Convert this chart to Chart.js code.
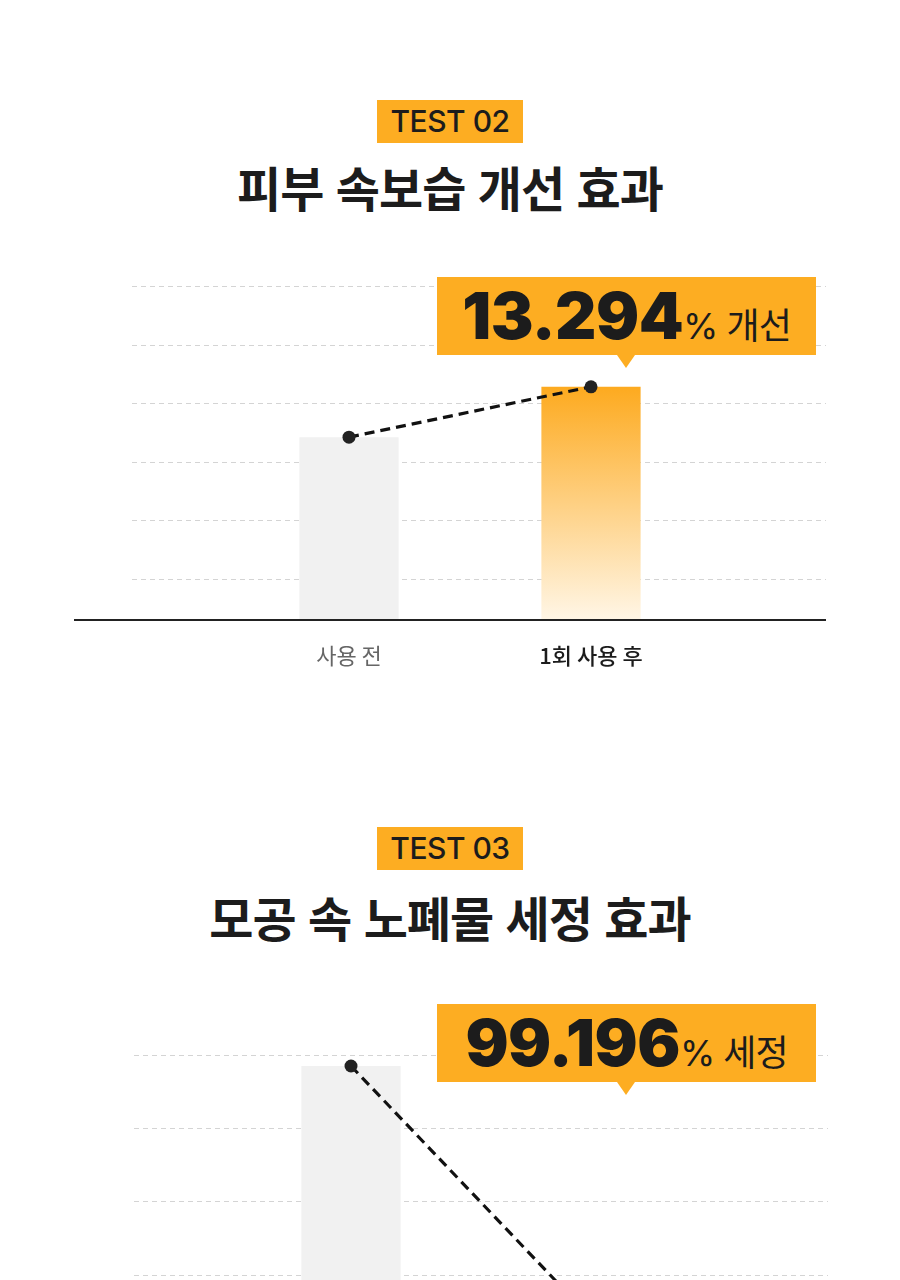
<!DOCTYPE html>
<html lang="ko">
<head>
<meta charset="UTF-8">
<title>TEST 02 / TEST 03</title>
<script src="https://cdn.jsdelivr.net/npm/chart.js@4.4.1/dist/chart.umd.min.js"></script>
<style>
  html, body { margin: 0; padding: 0; width: 900px; height: 1280px; overflow: hidden; background: #fff; }
  body { position: relative; font-family: "Noto Sans CJK KR", "Noto Sans", sans-serif; color: #1c1c1c; }
  .badge {
    position: absolute; left: 377px; width: 146px; height: 43px;
    background: #fdad22; text-align: center;
    font-family: Inter, "Liberation Sans", sans-serif; font-weight: 500; font-size: 30px; line-height: 43px;
    letter-spacing: -0.5px; color: #1c1c1c;
  }
  .title {
    position: absolute; left: 0; width: 900px; text-align: center;
    font-family: "Noto Sans CJK KR", sans-serif; font-weight: 700; font-size: 48px; line-height: 60px;
    letter-spacing: -1px; color: #1c1c1c;
  }
  .chart { position: absolute; left: 0; }
  .callout {
    position: absolute; left: 437px; width: 379px; height: 78px;
    background: #fdad22; text-align: center; white-space: nowrap;
    font-family: Inter, sans-serif; font-weight: 900; font-size: 64px; line-height: 78px;
    letter-spacing: -0.5px; color: #1c1c1c;
  }
  .callout:after {
    content: ""; position: absolute; left: 180px; top: 78px;
    border-left: 9px solid transparent; border-right: 9px solid transparent; border-top: 13px solid #fdad22;
  }
  .callout .unit {
    font-family: Inter, "Noto Sans CJK KR", sans-serif; font-weight: 400; font-size: 36px; line-height: 1;
    letter-spacing: -1px; margin-left: 0;
  }
</style>
</head>
<body>

<div class="badge" style="top:100px">TEST 02</div>
<div class="title" style="top:156px">피부 속보습 개선 효과</div>
<canvas id="chart1" class="chart" width="900" height="450" style="top:250px"></canvas>
<div class="callout" style="top:277px">13.294<span class="unit">% 개선</span></div>

<div class="badge" style="top:827px">TEST 03</div>
<div class="title" style="top:886px">모공 속 노폐물 세정 효과</div>
<canvas id="chart2" class="chart" width="900" height="383" style="top:1019px"></canvas>
<div class="callout" style="top:1004px">99.196<span class="unit">% 세정</span></div>

<script>
// categories
var labels = ['사용 전', '1회 사용 후'];

// TEST 02 - 피부 속보습 (relative units)
var moistureValues = [31.2, 39.8];
var moistureGrid = [7, 17, 27, 37, 47, 57];

// TEST 03 - 모공 속 노폐물 (before = 100, after = 0.804)
var poreValues = [100, 0.804];
var poreGrid = [18.5, 47.1, 75.7, 104.3];

var ORANGE = '#fdad22';

// dashed guide lines + solid baseline, wider than the plot itself
var refGrid = {
  id: 'refGrid',
  beforeDatasetsDraw: function (chart, args, opts) {
    var ctx = chart.ctx, area = chart.chartArea, y = chart.scales.y;
    ctx.save();
    ctx.strokeStyle = '#d4d4d4';
    ctx.lineWidth = 1;
    ctx.setLineDash([5, 4]);
    y.ticks.forEach(function (t) {
      var py = Math.round(y.getPixelForValue(t.value)) + 0.5;
      ctx.beginPath();
      ctx.moveTo(area.left - opts.gridLeft, py);
      ctx.lineTo(area.right + opts.right, py);
      ctx.stroke();
    });
    ctx.restore();
  },
  afterDatasetsDraw: function (chart, args, opts) {
    var ctx = chart.ctx, area = chart.chartArea, y = chart.scales.y;
    var by = y.getPixelForValue(0);
    ctx.save();
    ctx.strokeStyle = '#222';
    ctx.lineWidth = 2;
    ctx.beginPath();
    ctx.moveTo(area.left - opts.baseLeft, by);
    ctx.lineTo(area.right + opts.right, by);
    ctx.stroke();
    ctx.restore();
  }
};

function barFill(c) {
  if (c.dataIndex === 0) return '#f1f1f1';
  var chart = c.chart;
  if (!chart.chartArea || !chart.scales.y) return ORANGE;
  var y = chart.scales.y;
  var top = y.getPixelForValue(c.raw);
  var bottom = y.getPixelForValue(0);
  var g = chart.ctx.createLinearGradient(0, top, 0, bottom);
  g.addColorStop(0, '#fdaa1f');
  g.addColorStop(1, '#fff6e6');
  return g;
}

function makeChart(id, values, grid, yMax, padLeft) {
  return new Chart(document.getElementById(id), {
    data: {
      labels: labels,
      datasets: [
        {
          type: 'line',
          data: values,
          order: 0,
          borderColor: '#111',
          borderWidth: 3.2,
          borderDash: [10, 6],
          pointRadius: 6.5,
          pointBackgroundColor: '#222',
          pointBorderWidth: 0,
          clip: false
        },
        {
          type: 'bar',
          data: values,
          order: 1,
          backgroundColor: barFill,
          categoryPercentage: 1,
          barPercentage: 0.41
        }
      ]
    },
    options: {
      responsive: false,
      animation: false,
      layout: { padding: { left: padLeft, right: 900 - padLeft - 484, top: 36, bottom: 0 } },
      plugins: {
        legend: { display: false },
        tooltip: { enabled: false },
        refGrid: { gridLeft: 96, baseLeft: 154, right: 114 }
      },
      scales: {
        x: {
          grid: { display: false, drawTicks: false },
          border: { display: false },
          ticks: {
            padding: 22,
            color: function (c) { return c.index === 1 ? '#1c1c1c' : '#666'; },
            font: function (c) {
              return { family: '"Noto Sans CJK KR", sans-serif', size: 22, weight: c.index === 1 ? '500' : '400' };
            }
          },
          afterFit: function (s) { s.height = 80; }
        },
        y: {
          min: 0,
          max: yMax,
          grid: { display: false },
          border: { display: false },
          ticks: { display: false },
          afterBuildTicks: function (s) { s.ticks = grid.map(function (v) { return { value: v }; }); },
          afterFit: function (s) { s.width = 0; }
        }
      }
    },
    plugins: [refGrid]
  });
}

makeChart('chart1', moistureValues, moistureGrid, 57, 228);
makeChart('chart2', poreValues, poreGrid, 104.3, 230);
</script>
</body>
</html>
